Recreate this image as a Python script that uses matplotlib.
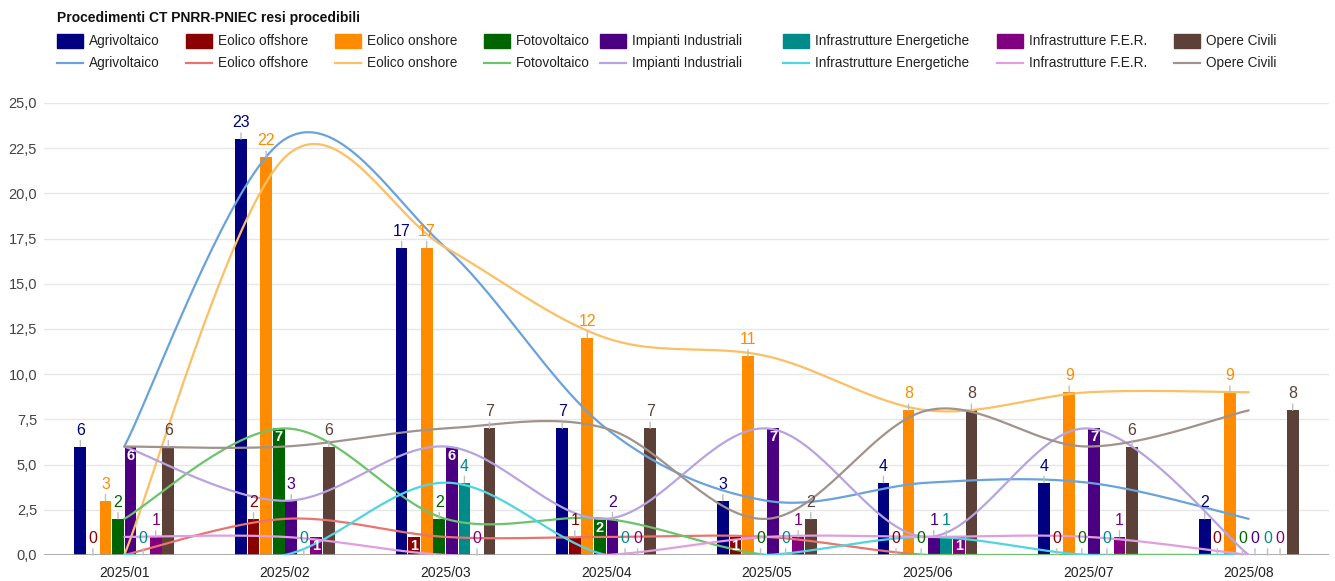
import numpy as np
import matplotlib.pyplot as plt
from matplotlib.patches import Rectangle

plt.rcParams['font.family'] = ['Liberation Sans', 'DejaVu Sans']

# monthly counts, one list per category
months = ['2025/01', '2025/02', '2025/03', '2025/04', '2025/05', '2025/06', '2025/07', '2025/08']
names = ['Agrivoltaico', 'Eolico offshore', 'Eolico onshore', 'Fotovoltaico',
         'Impianti Industriali', 'Infrastrutture Energetiche', 'Infrastrutture F.E.R.', 'Opere Civili']

agrivoltaico = [6, 23, 17, 7, 3, 4, 4, 2]
eolico_offshore = [0, 2, 1, 1, 1, 0, 0, 0]
eolico_onshore = [3, 22, 17, 12, 11, 8, 9, 9]
fotovoltaico = [2, 7, 2, 2, 0, 0, 0, 0]
impianti_industriali = [6, 3, 6, 2, 7, 1, 7, 0]
infra_energetiche = [0, 0, 4, 0, 0, 1, 0, 0]
infra_fer = [1, 1, 0, 0, 1, 1, 1, 0]
opere_civili = [6, 6, 7, 7, 2, 8, 6, 8]

# trend lines (the onshore line starts from zero)
trend_onshore = [0, 22, 17, 12, 11, 8, 9, 9]

bar_values = [agrivoltaico, eolico_offshore, eolico_onshore, fotovoltaico,
              impianti_industriali, infra_energetiche, infra_fer, opere_civili]
line_values = [agrivoltaico, eolico_offshore, trend_onshore, fotovoltaico,
               impianti_industriali, infra_energetiche, infra_fer, opere_civili]

bar_colors = ['#000080', '#8b0000', '#ff8c00', '#006400', '#4b0082', '#008b8b', '#800080', '#5d4037']
line_colors = ['#6aa2dc', '#e8736f', '#fcbf63', '#6cc36c', '#b7a3e0', '#4fd5e0', '#e09ee0', '#a0928c']

# labels that sit inside the bar (series index, month index)
inside_labels = {(4, 0), (3, 1), (6, 1), (1, 2), (4, 2), (3, 3), (4, 4), (1, 4), (6, 5), (4, 6)}

W, H = 1335, 581
PT = 0.72  # points per pixel at dpi 100


def smooth_curve(xs, ys, s=1/6, n=40):
    # bezier curve through the points, control points from the neighbours
    p = np.column_stack([xs, ys]).astype(float)
    out = []
    for i in range(len(p) - 1):
        p0 = p[max(i - 1, 0)]
        p1 = p[i]
        p2 = p[i + 1]
        p3 = p[min(i + 2, len(p) - 1)]
        c1 = p1 + (p2 - p0) * s
        c2 = p2 - (p3 - p1) * s
        t = np.linspace(0, 1, n)[:, None]
        seg = (1 - t)**3 * p1 + 3 * (1 - t)**2 * t * c1 + 3 * (1 - t) * t**2 * c2 + t**3 * p2
        out.append(seg if i == 0 else seg[1:])
    return np.vstack(out)


fig = plt.figure(figsize=(W / 100, H / 100), dpi=100)
ax = fig.add_axes([44 / W, 26 / H, (1329 - 44) / W, (555 - 103) / H])

x = np.arange(len(months))
slot = 0.0782
width = 0.073

for j, (vals, col) in enumerate(zip(bar_values, bar_colors)):
    pos = x + (j - 3.5) * slot
    ax.bar(pos, vals, width=width, color=col, zorder=2)
    for i, v in enumerate(vals):
        if (j, i) in inside_labels:
            ax.annotate(str(v), xy=(pos[i], v), xytext=(0, -2 * PT), textcoords='offset points',
                        ha='center', va='top', color='white', fontsize=10.5, fontweight='bold', zorder=6)
        else:
            ax.annotate(str(v), xy=(pos[i], v), xytext=(0, 9 * PT), textcoords='offset points',
                        ha='center', va='bottom', color=col, fontsize=11.5, zorder=6,
                        arrowprops=dict(arrowstyle='-', color='#bdbdbd', lw=1,
                                        relpos=(0.5, 0), shrinkA=0, shrinkB=0))

for vals, col in zip(line_values, line_colors):
    c = smooth_curve(x, vals)
    ax.plot(c[:, 0], c[:, 1], color=col, lw=1.6, zorder=4, solid_capstyle='round')

ax.set_xlim(-0.5, 7.5)
ax.set_ylim(0, 25)
ax.set_yticks(np.arange(0, 25.1, 2.5))
ax.set_yticklabels([f'{v:.1f}'.replace('.', ',') for v in np.arange(0, 25.1, 2.5)],
                   color='#444444', fontsize=10.5)
ax.set_xticks(x)
ax.set_xticklabels(months, color='#222222', fontsize=10)
ax.tick_params(axis='y', length=0, pad=5)
ax.tick_params(axis='x', length=0, pad=8)
ax.grid(axis='y', color='#e6e6e6', lw=1, zorder=0)
ax.axhline(0, color='#9e9e9e', lw=1.2, zorder=3)
for sp in ax.spines.values():
    sp.set_visible(False)

# legend drawn in pixel coordinates on an overlay
lg = fig.add_axes([0, 0, 1, 1])
lg.set_xlim(0, W)
lg.set_ylim(H, 0)
lg.axis('off')

lg.text(57, 18, 'Procedimenti CT PNRR-PNIEC resi procedibili', fontsize=10,
        fontweight='bold', va='center', ha='left', color='#111111')

legend_x = [57, 186, 335, 484, 600, 783, 997, 1174]
for lx, name, bc, lc in zip(legend_x, names, bar_colors, line_colors):
    lg.add_patch(Rectangle((lx, 34), 26, 14, color=bc))
    lg.text(lx + 32, 41, name, fontsize=9.8, va='center', ha='left', color='#222222')
    lg.plot([lx, lx + 26], [63, 63], color=lc, lw=1.6)
    lg.text(lx + 32, 63, name, fontsize=9.8, va='center', ha='left', color='#222222')

fig.savefig('out.png', dpi=100)
